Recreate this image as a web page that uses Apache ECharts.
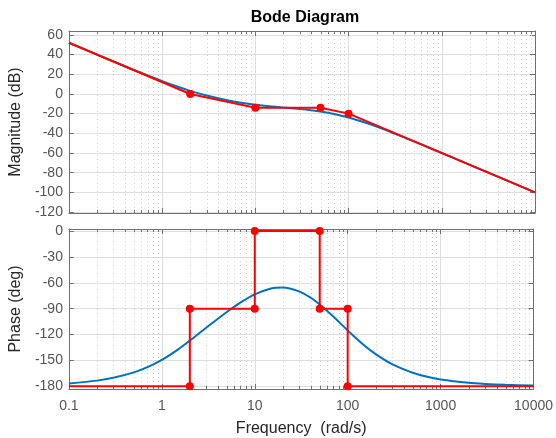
<!DOCTYPE html>
<html>
<head>
<meta charset="utf-8">
<script src="https://cdn.jsdelivr.net/npm/echarts@6/dist/echarts.min.js"></script>
<style>
  html, body { margin: 0; padding: 0; background: #fff; }
  #chart { width: 556px; height: 438px; }
</style>
</head>
<body>
<div id="chart"></div>
<script>
// Frequency response samples (rad/s)
const freq = [0.1, 0.2, 0.3, 0.5, 0.7, 1, 1.5, 2, 3, 5, 7, 10, 15, 20, 30, 40, 50, 70,
              100, 150, 200, 300, 500, 700, 1000, 2000, 3000, 5000, 10000];
// Magnitude (dB)
const magDb = [52.05, 40.05, 33.06, 24.36, 18.76, 13.05, 7.03, 3.17, -1.57, -6.40, -8.92, -11.01,
               -12.77, -13.79, -15.21, -16.50, -17.78, -20.32, -23.94, -29.08, -33.26, -39.65,
               -48.17, -53.91, -60.05, -72.05, -79.09, -87.96, -100.0];
// Phase (deg)
const phaseDeg = [-176.74, -173.48, -170.26, -163.96, -157.91, -149.44, -137.18, -127.13, -112.14,
                  -93.80, -82.93, -73.33, -66.51, -65.39, -69.90, -77.36, -85.17, -99.22, -115.29,
                  -132.45, -142.82, -154.40, -164.36, -168.76, -172.11, -176.06, -177.37, -178.41, -179.21];

// Straight-line asymptotes
const asymFreq = [0.1, 2, 10, 50, 100, 10000];
const asymMag = [52.04, 0, -13.98, -13.98, -20, -100];
const stepFreq = [0.1, 2, 2, 10, 10, 50, 50, 100, 100, 10000];
const stepPhase = [-180, -180, -90, -90, 0, 0, -90, -90, -180, -180];

// Axis ticks
const freqTicks = [0.1, 1, 10, 100, 1000, 10000];
const magTicks = [-120, -100, -80, -60, -40, -20, 0, 20, 40, 60];
const phaseTicks = [-180, -150, -120, -90, -60, -30, 0];
const minorMults = [2, 3, 4, 5, 6, 7, 8, 9];

const zip = (xs, ys) => xs.map((x, i) => [x, ys[i]]);
const minorFreqs = [];
freqTicks.slice(0, -1).forEach(d => minorMults.forEach(m => minorFreqs.push([+(d * m).toPrecision(6), 0])));

const BOX = '#707070';
const LABEL = '#555555';
const NAME = '#262626';
const FONT = '"Liberation Sans", Arial, sans-serif';

function xAxisDef(gridIndex, position, withLabels) {
  return {
    type: 'log', logBase: 10, gridIndex, position,
    min: freqTicks[0], max: freqTicks[freqTicks.length - 1],
    axisLine: { show: true, onZero: false, lineStyle: { color: BOX, width: 1 } },
    axisTick: { show: true, inside: true, length: 5, lineStyle: { color: BOX } },
    axisLabel: {
      show: withLabels, color: LABEL, fontSize: 14, fontFamily: FONT, margin: 10,
      formatter: v => String(+(+v).toPrecision(6))
    },
    splitLine: { show: position === 'bottom', lineStyle: { color: '#dedede', width: 1 } },
    minorTick: { show: false }
  };
}

function yAxisDef(gridIndex, position, lo, hi, ticks, name) {
  const left = position === 'left';
  return {
    type: 'value', gridIndex, position, min: lo, max: hi,
    name: left ? name : '',
    nameLocation: 'middle', nameRotate: 90, nameGap: 42,
    nameTextStyle: { color: NAME, fontSize: 16, fontFamily: FONT },
    axisLine: { show: true, onZero: false, lineStyle: { color: BOX, width: 1 } },
    axisTick: { show: true, inside: true, length: 5, customValues: ticks, lineStyle: { color: BOX } },
    axisLabel: { show: left, customValues: ticks, color: LABEL, fontSize: 14, fontFamily: FONT, margin: 6 },
    splitLine: { show: left, lineStyle: { color: '#dedede', width: 1 } }
  };
}

// Dotted minor grid lines and short minor ticks on the top/bottom edges
function minorGrid(params, api) {
  const cs = params.coordSys;
  const x = Math.round(api.coord([api.value(0), api.value(1)])[0]) + 0.5;
  const y0 = cs.y, y1 = cs.y + cs.height;
  return {
    type: 'group',
    children: [
      { type: 'line', shape: { x1: x, y1: y0, x2: x, y2: y1 },
        style: { stroke: '#cfcfcf', lineWidth: 1, lineDash: [1, 3] } },
      { type: 'line', shape: { x1: x, y1: y0, x2: x, y2: y0 + 3 },
        style: { stroke: BOX, lineWidth: 1 } },
      { type: 'line', shape: { x1: x, y1: y1, x2: x, y2: y1 - 3 },
        style: { stroke: BOX, lineWidth: 1 } }
    ]
  };
}

const innerSymbol = n => (val, p) => (p.dataIndex === 0 || p.dataIndex === n - 1) ? 'none' : 'circle';

const option = {
  animation: false,
  backgroundColor: '#ffffff',
  title: {
    text: 'Bode Diagram', left: 300, textAlign: 'center', top: 5,
    textStyle: { color: '#000', fontSize: 16, fontWeight: 'bold', fontFamily: FONT }
  },
  grid: [
    { left: 65, right: 21, top: 31, height: 182 },
    { left: 65, right: 21, top: 229, height: 161 }
  ],
  xAxis: [
    xAxisDef(0, 'bottom', false),
    xAxisDef(0, 'top', false),
    Object.assign(xAxisDef(1, 'bottom', true), {
      name: 'Frequency  (rad/s)', nameLocation: 'middle', nameGap: 32,
      nameTextStyle: { color: NAME, fontSize: 16, fontFamily: FONT }
    }),
    xAxisDef(1, 'top', false)
  ],
  yAxis: [
    yAxisDef(0, 'left', -121, 64, magTicks, 'Magnitude (dB)'),
    yAxisDef(0, 'right', -121, 64, magTicks, ''),
    yAxisDef(1, 'left', -183.2, 2.4, phaseTicks, 'Phase (deg)'),
    yAxisDef(1, 'right', -183.2, 2.4, phaseTicks, '')
  ],
  series: [
    { type: 'custom', xAxisIndex: 0, yAxisIndex: 0, data: minorFreqs, renderItem: minorGrid,
      encode: { x: 0, y: 1 }, z: 1, silent: true },
    { type: 'custom', xAxisIndex: 2, yAxisIndex: 2, data: minorFreqs, renderItem: minorGrid,
      encode: { x: 0, y: 1 }, z: 1, silent: true },
    { name: 'mag', type: 'line', xAxisIndex: 0, yAxisIndex: 0, data: zip(freq, magDb),
      showSymbol: false, smooth: 0.3,
      lineStyle: { color: '#0072BD', width: 2 }, z: 3 },
    { name: 'phase', type: 'line', xAxisIndex: 2, yAxisIndex: 2, data: zip(freq, phaseDeg),
      showSymbol: false, smooth: 0.3,
      lineStyle: { color: '#0072BD', width: 2 }, z: 3 },
    { name: 'magAsym', type: 'line', xAxisIndex: 0, yAxisIndex: 0, data: zip(asymFreq, asymMag),
      symbol: innerSymbol(asymFreq.length), symbolSize: 8, showAllSymbol: true,
      itemStyle: { color: '#ff0000' }, lineStyle: { color: '#ff0000', width: 2 }, z: 4 },
    { name: 'phaseAsym', type: 'line', xAxisIndex: 2, yAxisIndex: 2, data: zip(stepFreq, stepPhase),
      symbol: innerSymbol(stepFreq.length), symbolSize: 8, showAllSymbol: true,
      itemStyle: { color: '#ff0000' }, lineStyle: { color: '#ff0000', width: 2 }, z: 4 }
  ]
};

const chart = echarts.init(document.getElementById('chart'), null, { renderer: 'canvas' });
chart.setOption(option);
</script>
</body>
</html>
